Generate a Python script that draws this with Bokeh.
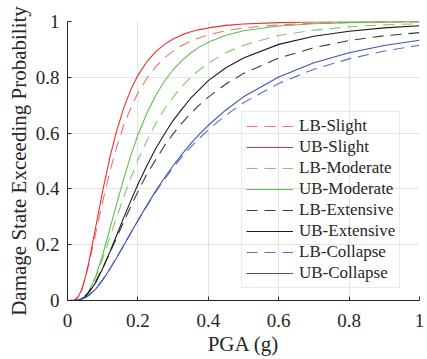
from bokeh.plotting import figure
from bokeh.models import Range1d, FixedTicker, Legend, LegendItem, CustomJSTickFormatter
from bokeh.embed import file_html
from bokeh.resources import INLINE

# ---- data ----
pga = [0, 0.02, 0.03, 0.04, 0.05, 0.06, 0.08, 0.10, 0.12, 0.14, 0.16, 0.18, 0.20,
       0.225, 0.25, 0.275, 0.30, 0.325, 0.35, 0.375, 0.40, 0.45, 0.50,
       0.60, 0.70, 0.80, 0.90, 1.00]

lb_slight = [0, 0.002, 0.012, 0.036, 0.078, 0.126, 0.240, 0.355, 0.460, 0.552, 0.628, 0.691, 0.744,
             0.796, 0.837, 0.869, 0.894, 0.914, 0.930, 0.942, 0.952, 0.967, 0.977,
             0.988, 0.9936, 0.9964, 0.9979, 0.9987]
ub_slight = [0, 0.0018, 0.0124, 0.038, 0.080, 0.134, 0.262, 0.393, 0.511, 0.610, 0.691, 0.756, 0.807,
             0.855, 0.891, 0.917, 0.937, 0.952, 0.963, 0.971, 0.977, 0.986, 0.991,
             0.996, 0.998, 0.999, 0.9996, 0.9998]
lb_moderate = [0, 0.0001, 0.001, 0.005, 0.015, 0.030, 0.082, 0.150, 0.225, 0.300, 0.372, 0.440, 0.503,
               0.572, 0.633, 0.685, 0.729, 0.767, 0.800, 0.827, 0.851, 0.888, 0.915,
               0.950, 0.969, 0.981, 0.988, 0.992]
ub_moderate = [0, 0.0001, 0.001, 0.0049, 0.014, 0.031, 0.086, 0.164, 0.255, 0.348, 0.438, 0.520, 0.593,
               0.670, 0.734, 0.785, 0.827, 0.860, 0.887, 0.909, 0.926, 0.951, 0.967,
               0.984, 0.992, 0.996, 0.998, 0.999]
lb_extensive = [0, 0.0005, 0.002, 0.008, 0.016, 0.030, 0.068, 0.116, 0.170, 0.226, 0.283, 0.338, 0.390,
                0.453, 0.503, 0.554, 0.597, 0.636, 0.670, 0.701, 0.729, 0.776, 0.814,
                0.869, 0.906, 0.932, 0.949, 0.960]
ub_extensive = [0, 0.0002, 0.0017, 0.006, 0.014, 0.027, 0.064, 0.115, 0.173, 0.235, 0.298, 0.358, 0.416,
                0.482, 0.543, 0.596, 0.645, 0.686, 0.725, 0.757, 0.788, 0.834, 0.869,
                0.918, 0.947, 0.965, 0.977, 0.985]
lb_collapse = [0, 0.0002, 0.0015, 0.0045, 0.010, 0.018, 0.042, 0.075, 0.113, 0.155, 0.198, 0.242, 0.285,
               0.338, 0.388, 0.433, 0.476, 0.515, 0.550, 0.582, 0.612, 0.664, 0.709,
               0.778, 0.829, 0.866, 0.894, 0.915]
ub_collapse = [0, 0.0002, 0.0014, 0.0043, 0.0096, 0.018, 0.041, 0.073, 0.112, 0.154, 0.198, 0.243, 0.287,
               0.340, 0.391, 0.439, 0.483, 0.524, 0.562, 0.596, 0.628, 0.683, 0.730,
               0.801, 0.852, 0.888, 0.914, 0.933]

series_names = ["LB-Slight", "UB-Slight", "LB-Moderate", "UB-Moderate",
                "LB-Extensive", "UB-Extensive", "LB-Collapse", "UB-Collapse"]
series_values = [lb_slight, ub_slight, lb_moderate, ub_moderate,
                 lb_extensive, ub_extensive, lb_collapse, ub_collapse]

ticks = [0, 0.2, 0.4, 0.6, 0.8, 1]
tick_labels = ["0", "0.2", "0.4", "0.6", "0.8", "1"]

x_title = "PGA (g)"
y_title = "Damage State Exceeding Probability"

# ---- styles ----
colors = ["#f07070", "#e83030", "#7ccc6a", "#5cc24a", "#3a3a3a", "#1a1a1a", "#5a70c4", "#3b54b0"]
dashes = ["11 7", "solid", "11 7", "solid", "11 7", "solid", "11 7", "solid"]

FONT = "Liberation Serif"
AX = "#262626"

p = figure(width=427, height=359, x_range=Range1d(0, 1), y_range=Range1d(0, 1),
           output_backend="svg", toolbar_location=None,
           min_border_left=67, min_border_right=8, min_border_top=21, min_border_bottom=59)
p.outline_line_color = None
p.background_fill_color = "white"
p.border_fill_color = "white"

fmt_code = """
let best = 0, bd = 1e9;
for (let i = 0; i < tvals.length; i++) {
  const d = Math.abs(tvals[i] - tick);
  if (d < bd) { bd = d; best = i; }
}
return labels[best];
"""

for ax in (p.xaxis[0], p.yaxis[0]):
    ax.ticker = FixedTicker(ticks=ticks)
    ax.formatter = CustomJSTickFormatter(args=dict(tvals=ticks, labels=tick_labels), code=fmt_code)
    ax.major_tick_in = 4
    ax.major_tick_out = 0
    ax.minor_tick_in = 0
    ax.minor_tick_out = 0
    ax.axis_line_color = AX
    ax.axis_line_width = 1
    ax.major_tick_line_color = AX
    ax.major_label_text_font = FONT
    ax.major_label_text_font_size = "19px"
    ax.major_label_text_font_style = "normal"
    ax.major_label_text_color = AX
    ax.axis_label_text_font = FONT
    ax.axis_label_text_font_size = "21px"
    ax.axis_label_text_font_style = "normal"
    ax.axis_label_text_color = AX

p.xaxis.axis_label = x_title
p.yaxis.axis_label = y_title
p.xaxis.major_label_standoff = 13
p.xaxis.axis_label_standoff = 2
p.yaxis.major_label_standoff = 8
p.yaxis.axis_label_standoff = 2

for g in (p.xgrid[0], p.ygrid[0]):
    g.ticker = FixedTicker(ticks=ticks)
    g.grid_line_color = AX
    g.grid_line_alpha = 0.13
    g.grid_line_width = 1

items = []
for name, vals, c, d in zip(series_names, series_values, colors, dashes):
    r = p.line(pga, vals, line_color=c, line_width=1.1, line_dash=d)
    items.append(LegendItem(label=name, renderers=[r]))

legend = Legend(items=items, location=(174, 12))
legend.label_text_font = FONT
legend.label_text_font_size = "17px"
legend.label_text_color = AX
legend.label_height = 20
legend.glyph_height = 20
legend.glyph_width = 47
legend.label_standoff = 6
legend.spacing = 1
legend.padding = 4
legend.margin = 0
legend.border_line_color = "#d6d6d6"
legend.border_line_width = 1
legend.background_fill_alpha = 0
p.add_layout(legend)

open("out.html", "w").write(file_html(p, INLINE))
